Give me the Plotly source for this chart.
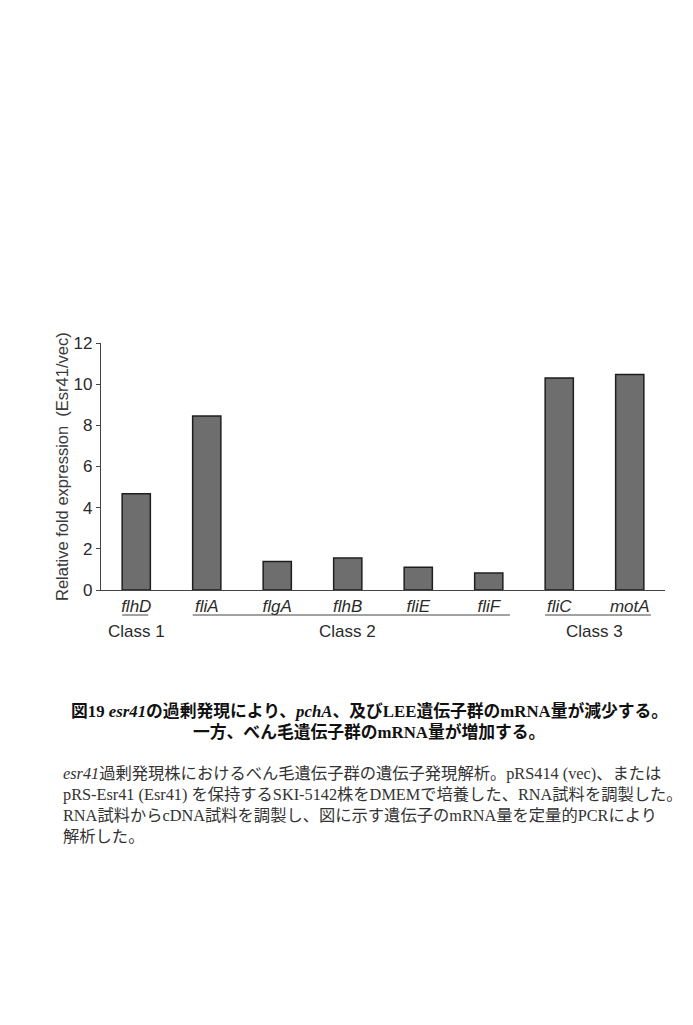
import plotly.graph_objects as go

genes = ["flhD", "fliA", "flgA", "flhB", "fliE", "fliF", "fliC", "motA"]
fold = [4.68, 8.45, 1.38, 1.55, 1.10, 0.82, 10.30, 10.47]
y_ticks = [0, 2, 4, 6, 8, 10, 12]
classes = ["Class 1", "Class 2", "Class 3"]
class_start = [0, 1, 6]
class_end = [0, 5, 7]

title_lines = [
    "図19 <i>esr41</i>の過剰発現により、<i>pchA</i>、及びLEE遺伝子群のmRNA量が減少する。",
    "一方、べん毛遺伝子群のmRNA量が増加する。",
]
body_lines = [
    "<i>esr41</i>過剰発現株におけるべん毛遺伝子群の遺伝子発現解析。pRS414 (vec)、または",
    "pRS-Esr41 (Esr41) を保持するSKI-5142株をDMEMで培養した、RNA試料を調製した。",
    "RNA試料からcDNA試料を調製し、図に示す遺伝子のmRNA量を定量的PCRにより",
    "解析した。",
]

W, H = 693, 1025
L, R, T, B = 101, 28, 343, 435
pw, ph = W - L - R, H - T - B


def py(pix):
    return (H - B - pix) / ph


def px(pix):
    return (pix - L) / pw


sans = "Liberation Sans, Arial"
fig = go.Figure()
fig.add_trace(go.Bar(
    x=list(range(len(genes))), y=fold, width=0.4,
    marker=dict(color="#6e6e6e", line=dict(color="#1e1e1e", width=1.5)),
    showlegend=False,
))

shapes = []
annotations = []
for name, s, e in zip(classes, class_start, class_end):
    x0 = s - 0.2
    x1 = e + (0.17 if s == e else 0.3)
    shapes.append(dict(type="line", xref="x", yref="paper", x0=x0, x1=x1,
                       y0=py(615), y1=py(615), line=dict(color="#444", width=1)))
    annotations.append(dict(xref="x", yref="paper", x=(s + e) / 2, y=py(631),
                            text=name, showarrow=False,
                            font=dict(family=sans, size=17, color="#2a2a2a"),
                            xanchor="center", yanchor="middle"))

annotations.append(dict(xref="paper", yref="paper", x=px(62), y=py(467),
                        text="Relative fold expression  (Esr41/vec)", textangle=-90,
                        showarrow=False,
                        font=dict(family=sans, size=16.5, color="#3a3a3a"),
                        xanchor="center", yanchor="middle"))

cap_font = "Liberation Serif, Noto Sans CJK JP"
for i, t in enumerate(title_lines):
    annotations.append(dict(xref="paper", yref="paper", x=px(369), y=py(711 + 21 * i),
                            text="<b>" + t + "</b>", showarrow=False,
                            font=dict(family=cap_font, size=16.8, color="#111"),
                            xanchor="center", yanchor="middle"))
for i, t in enumerate(body_lines):
    annotations.append(dict(xref="paper", yref="paper", x=px(61), y=py(773 + 21.3 * i),
                            text=t, showarrow=False,
                            font=dict(family=cap_font, size=16.3, color="#333"),
                            xanchor="left", yanchor="middle"))

fig.update_layout(
    width=W, height=H,
    margin=dict(l=L, r=R, t=T, b=B),
    paper_bgcolor="white", plot_bgcolor="white",
    shapes=shapes, annotations=annotations,
    xaxis=dict(
        range=[-0.5, len(genes) - 0.5],
        tickmode="array", tickvals=list(range(len(genes))),
        ticktext=["<i>" + g + "</i>" for g in genes],
        tickfont=dict(family=sans, size=17, color="#2a2a2a"),
        showline=True, linecolor="#444", linewidth=1.2,
        ticks="", showgrid=False, zeroline=False,
    ),
    yaxis=dict(
        range=[0, 12], tickmode="array", tickvals=y_ticks,
        tickfont=dict(family=sans, size=17, color="#2a2a2a"),
        showline=True, linecolor="#444", linewidth=1.2,
        ticks="outside", ticklen=4, tickcolor="#444",
        showgrid=False, zeroline=False,
    ),
)

fig.write_html("out.html")
